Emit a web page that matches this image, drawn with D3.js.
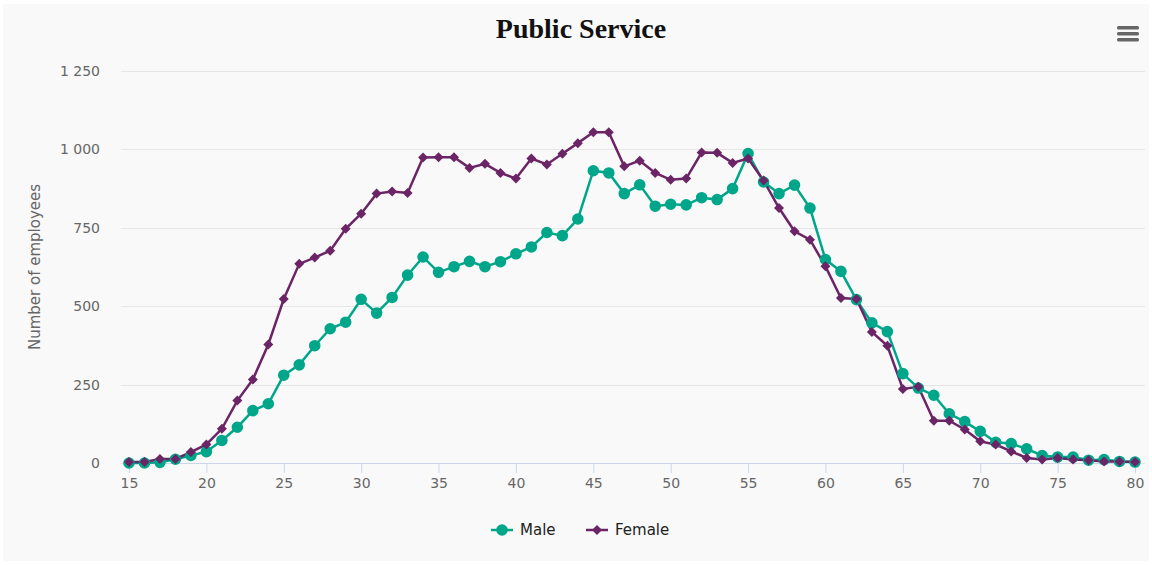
<!DOCTYPE html>
<html>
<head>
<meta charset="utf-8">
<script src="https://cdn.jsdelivr.net/npm/d3@7"></script>
<style>
  body { margin: 0; background: #fff; }
  #graf { width: 1152px; height: 565px; }
  text { font-family: "DejaVu Sans", sans-serif; }
</style>
</head>
<body>
<div id="graf"></div>
<script>
// Datos
const edades = d3.range(15, 81)
const hombres = [0, 0, 2, 12, 24, 36, 72, 114, 167, 189, 280, 313, 374, 428, 449, 522, 478, 528, 599, 657,
  608, 626, 643, 626, 642, 667, 689, 735, 725, 778, 932, 925, 859, 887, 819, 825, 823, 846, 840, 875,
  987, 896, 859, 886, 813, 649, 611, 521, 447, 419, 285, 239, 216, 157, 132, 101, 66, 62, 45, 24,
  19, 19, 9, 11, 5, 3]
const mujeres = [3, 3, 13, 13, 35, 59, 109, 199, 266, 378, 523, 635, 655, 677, 747, 795, 859, 866, 861, 974,
  975, 975, 941, 954, 925, 907, 971, 952, 986, 1020, 1055, 1055, 946, 964, 925, 903, 907, 990, 989, 957,
  971, 901, 813, 739, 712, 627, 526, 523, 418, 374, 236, 243, 135, 135, 107, 69, 59, 37, 16, 11,
  16, 11, 9, 5, 5, 3]
const yTicks = [0, 250, 500, 750, 1000, 1250]
const xTicks = [15, 20, 25, 30, 35, 40, 45, 50, 55, 60, 65, 70, 75, 80]

// rombo cuadrado (como el de Highcharts)
const rombo = {
  draw(ctx, size) {
    const r = Math.sqrt(size / 2)
    ctx.moveTo(0, -r)
    ctx.lineTo(r, 0)
    ctx.lineTo(0, r)
    ctx.lineTo(-r, 0)
    ctx.closePath()
  },
}

const series = [
  { nombre: "Male", valores: hombres, color: "#00a68a", simbolo: d3.symbolCircle, tam: 105 },
  { nombre: "Female", valores: mujeres, color: "#6b2466", simbolo: rombo, tam: 50 },
]

// Dimensiones
const anchoTotal = 1152
const altoTotal = 565
const margins = { top: 71, right: 17, bottom: 102, left: 129 }
const ancho = anchoTotal - margins.left - margins.right
const alto = altoTotal - margins.top - margins.bottom

const svg = d3.select("#graf")
  .append("svg")
  .attr("width", anchoTotal)
  .attr("height", altoTotal)

svg.append("rect")
  .attr("x", 3).attr("y", 4)
  .attr("width", anchoTotal - 6).attr("height", altoTotal - 8)
  .attr("fill", "#f9f9f9")

const g = svg.append("g")
  .attr("transform", `translate(${margins.left}, ${margins.top})`)

// Escaladores
const x = d3.scaleLinear().domain([15, 80]).range([0, ancho])
const y = d3.scaleLinear().domain([0, 1250]).range([alto, 0])

// Grilla
g.append("g")
  .selectAll("line")
  .data(yTicks)
  .join("line")
  .attr("x1", -8).attr("x2", ancho + 10)
  .attr("y1", (d) => Math.round(y(d)) + 0.5)
  .attr("y2", (d) => Math.round(y(d)) + 0.5)
  .attr("stroke", "#e6e6e6")

// Eje Y
g.append("g")
  .selectAll("text")
  .data(yTicks)
  .join("text")
  .attr("x", -29)
  .attr("y", (d) => y(d) + 5)
  .attr("text-anchor", "end")
  .attr("fill", "#666")
  .style("font-size", "14px")
  .text((d) => d3.format(",")(d).replace(",", " "))

// Eje X
const xAxis = d3.axisBottom(x).tickValues(xTicks).tickSize(10).tickPadding(5)
const xAxisGroup = g.append("g")
  .attr("transform", `translate(0, ${alto})`)
  .call(xAxis)
xAxisGroup.select(".domain").attr("stroke", "#ccd6eb")
xAxisGroup.selectAll(".tick line").attr("stroke", "#ccd6eb")
xAxisGroup.selectAll(".tick text")
  .attr("fill", "#666")
  .style("font-size", "14px")
  .style("font-family", "DejaVu Sans, sans-serif")

// Título
svg.append("text")
  .attr("x", 581)
  .attr("y", 38)
  .attr("text-anchor", "middle")
  .attr("fill", "#111")
  .style("font-family", "Liberation Serif, serif")
  .style("font-weight", "bold")
  .style("font-size", "28px")
  .text("Public Service")

svg.append("text")
  .attr("transform", `translate(40, ${margins.top + alto / 2}) rotate(-90)`)
  .attr("text-anchor", "middle")
  .attr("fill", "#666")
  .style("font-size", "15px")
  .text("Number of employees")

// Menú
svg.append("g")
  .selectAll("rect")
  .data([0, 1, 2])
  .join("rect")
  .attr("x", 1117).attr("y", (d) => 26 + d * 6)
  .attr("width", 22).attr("height", 3.5).attr("rx", 1.5)
  .attr("fill", "#666")

// Líneas
const linea = d3.line()
  .x((d, i) => x(edades[i]))
  .y((d) => y(d))

series.forEach((s) => {
  g.append("path")
    .datum(s.valores)
    .attr("d", linea)
    .attr("fill", "none")
    .attr("stroke", s.color)
    .attr("stroke-width", 2.5)
})

series.forEach((s) => {
  g.append("g")
    .selectAll("path")
    .data(s.valores)
    .join("path")
    .attr("transform", (d, i) => `translate(${x(edades[i])}, ${y(d)})`)
    .attr("d", d3.symbol(s.simbolo, s.tam))
    .attr("fill", s.color)
})

// Leyenda
const leyenda = svg.append("g").attr("transform", "translate(491, 530)")
const posLeyenda = [0, 95]
series.forEach((s, i) => {
  const item = leyenda.append("g").attr("transform", `translate(${posLeyenda[i]}, 0)`)
  item.append("line")
    .attr("x1", 0).attr("x2", 22)
    .attr("stroke", s.color).attr("stroke-width", 2.5)
  item.append("path")
    .attr("transform", "translate(11, 0)")
    .attr("d", d3.symbol(s.simbolo, s.tam))
    .attr("fill", s.color)
  item.append("text")
    .attr("x", 29).attr("y", 5)
    .attr("fill", "#222")
    .style("font-size", "15px")
    .text(s.nombre)
})
</script>
</body>
</html>
